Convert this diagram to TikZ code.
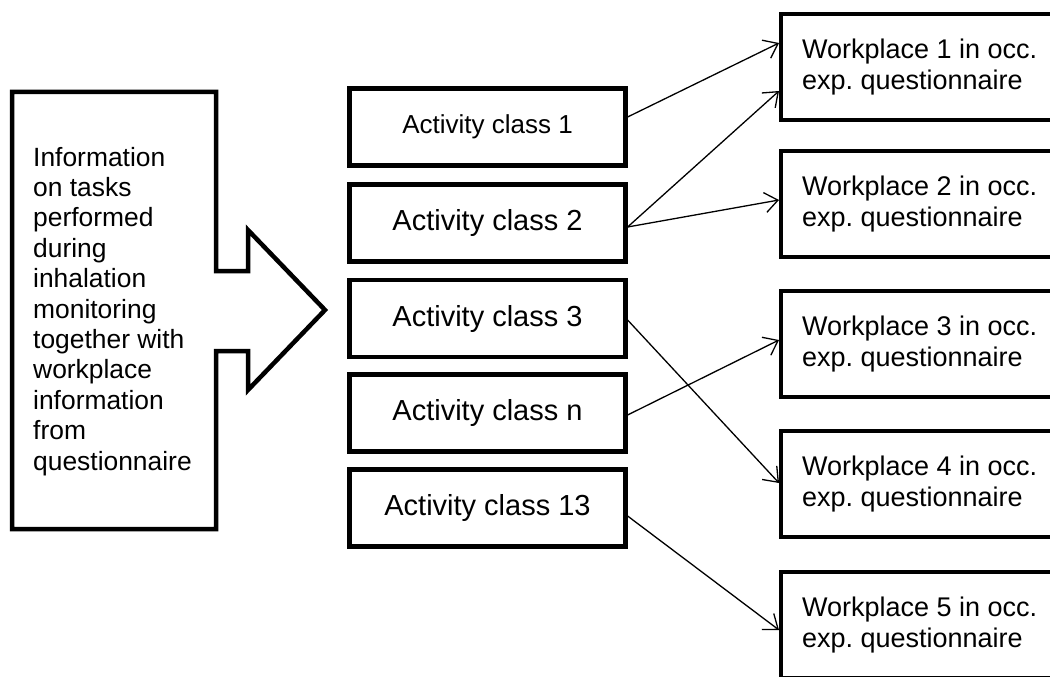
\documentclass[tikz,border=0pt]{standalone}
\usepackage{fontspec}
\setmainfont{Liberation Sans}
\usetikzlibrary{arrows.meta}
\frenchspacing
\begin{document}
\begin{tikzpicture}[x=1pt,y=-1pt,
  bigarrow/.style={draw, line width=4.5pt, line join=miter},
  infotext/.style={anchor=base west, align=left, inner sep=0pt, font=\fontsize{26.4}{30.4}\selectfont},
  actbox/.style={draw, line width=4.2pt, minimum width=276pt, minimum height=77pt, inner sep=0pt, font=\fontsize{29}{33}\selectfont},
  wpbox/.style={draw, line width=4.2pt, anchor=west, minimum height=106pt, text width=260pt, inner xsep=21pt, inner ysep=0pt, align=flush left, font=\fontsize{27}{31}\selectfont},
  link/.style={line width=1.3pt, -{Straight Barb[length=13pt,width=20pt]}}
]
\useasboundingbox (0,0) rectangle (1050,677);
\fill[white] (0,0) rectangle (1050,677);
\clip (0,0) rectangle (1050,677);

% left block arrow
\draw[bigarrow] (12,92) -- (216,92) -- (216,271) -- (248,271) -- (248,230) -- (325,310)
  -- (248,390) -- (248,351) -- (216,351) -- (216,529) -- (12,529) -- cycle;
\node[infotext] (info) at (33,470) {Information\\on tasks\\performed\\during\\inhalation\\monitoring\\together with\\workplace\\information\\from\\questionnaire};

% activity classes
\node[actbox, font=\fontsize{26}{30}\selectfont] (ac1) at (487.5,127) {Activity class 1};
\node[actbox] (ac2) at (487.5,223) {Activity class 2};
\node[actbox] (ac3) at (487.5,318.5) {Activity class 3};
\node[actbox] (acn) at (487.5,413) {Activity class n};
\node[actbox] (ac13) at (487.5,508) {Activity class 13};

% workplaces
\node[wpbox] (wp1) at (779,67) {Workplace 1 in occ.\\exp. questionnaire};
\node[wpbox] (wp2) at (779,204) {Workplace 2 in occ.\\exp. questionnaire};
\node[wpbox] (wp3) at (779,344) {Workplace 3 in occ.\\exp. questionnaire};
\node[wpbox] (wp4) at (779,484) {Workplace 4 in occ.\\exp. questionnaire};
\node[wpbox] (wp5) at (779,625) {Workplace 5 in occ.\\exp. questionnaire};

% connectors
\draw[link] ([yshift=10pt]ac1.east) -- ([yshift=24pt]wp1.west);
\draw[link] ([yshift=-4pt]ac2.east) -- ([yshift=-24pt]wp1.west);
\draw[link] ([yshift=-4pt]ac2.east) -- ([yshift=4pt]wp2.west);
\draw[link] ([yshift=-1.5pt]ac3.east) -- ([yshift=1pt]wp4.west);
\draw[link] ([yshift=-2pt]acn.east) -- ([yshift=4pt]wp3.west);
\draw[link] ([yshift=-8pt]ac13.east) -- ([yshift=-5pt]wp5.west);
\end{tikzpicture}
\end{document}
